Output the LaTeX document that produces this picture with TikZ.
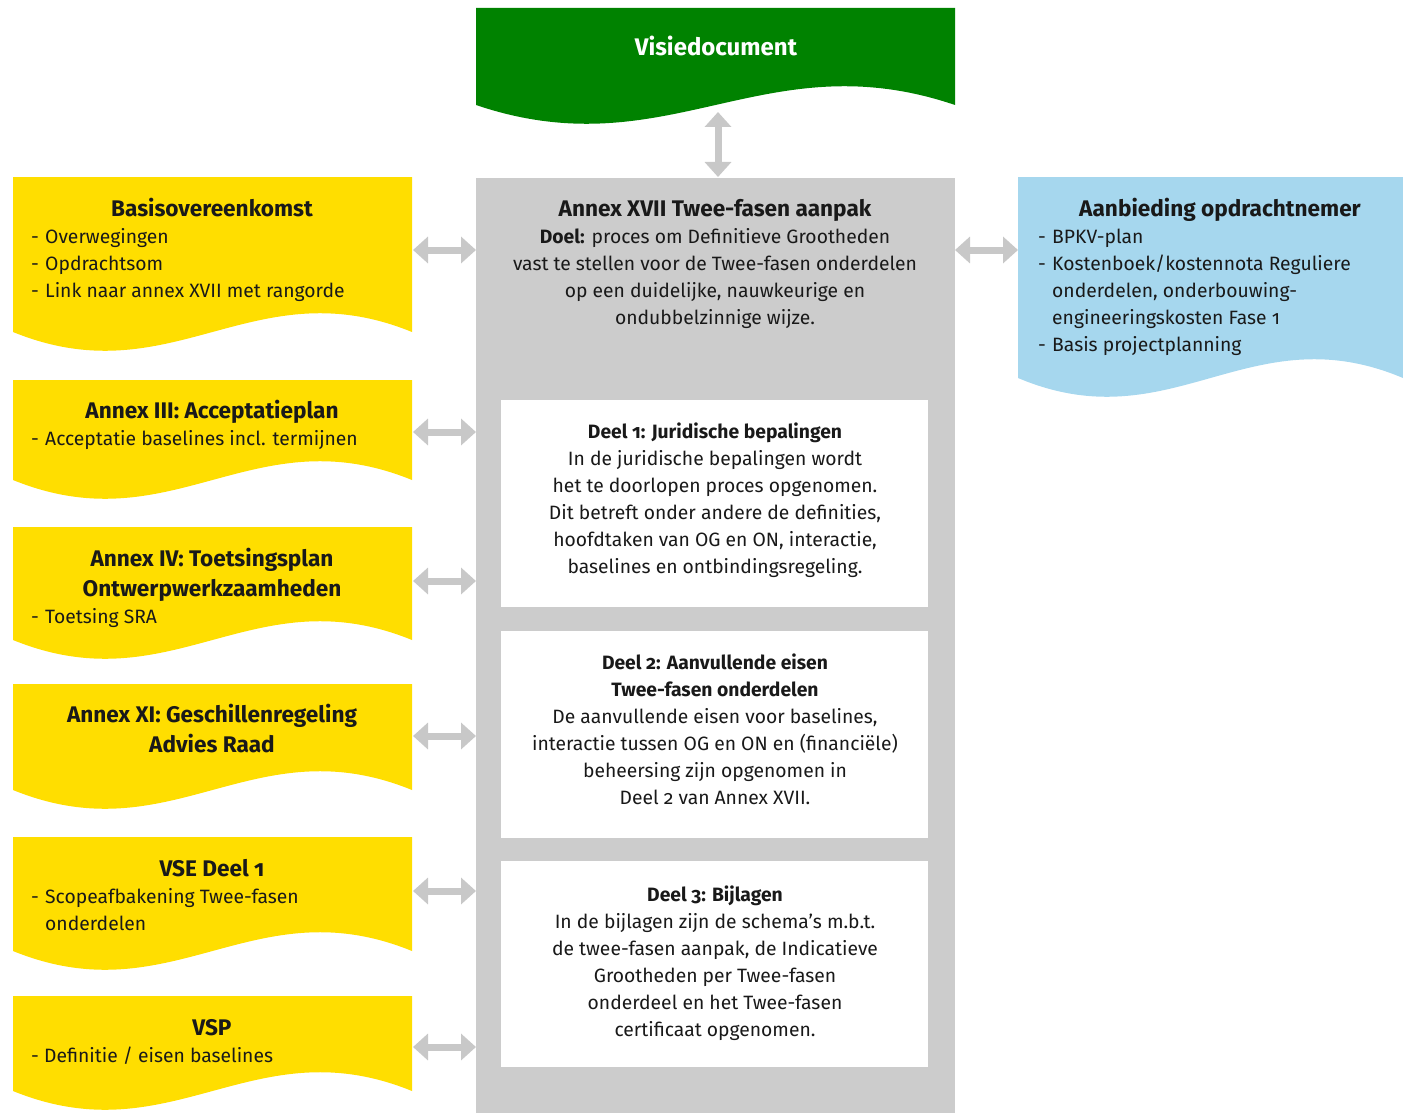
\documentclass[tikz,border=0pt]{standalone}
\usepackage{fontspec}
\setmainfont{Fira Sans}[Numbers=OldStyle]
\usetikzlibrary{arrows.meta}
\definecolor{docgreen}{RGB}{0,130,0}
\definecolor{docyellow}{RGB}{255,222,0}
\definecolor{docblue}{RGB}{166,215,238}
\definecolor{docgray}{RGB}{204,204,204}
\definecolor{arrgray}{RGB}{200,200,200}
\definecolor{txt}{RGB}{25,25,25}
\newcommand\wavedoc[5]{% style, x0, x1, ytop, ybottom(left/right end)
  \pgfmathsetmacro\wvA{#2+0.4*(#3-#2)}%
  \pgfmathsetmacro\wvB{#2+0.6*(#3-#2)}%
  \pgfmathsetmacro\wvD{#5+65}%
  \pgfmathsetmacro\wvU{#5-65}%
  \fill[#1] (#2,#4) -- (#3,#4) -- (#3,#5) .. controls (\wvB,\wvU) and (\wvA,\wvD) .. (#2,#5) -- cycle;
}
\tikzset{
  head/.style={font=\fontsize{22.6}{30}\selectfont\bfseries, text=txt, inner sep=0pt, anchor=base, align=center},
  body/.style={font=\fontsize{19.3}{27}\selectfont, text=txt, inner sep=0pt, anchor=base west, align=left},
  cbody/.style={font=\fontsize{19.3}{27}\selectfont, text=txt, inner sep=0pt, anchor=base, align=center},
  link/.style={draw=arrgray, line width=7pt, {Triangle[width=26pt,length=15pt]}-{Triangle[width=26pt,length=15pt]}},
}
\newcommand\dsh{\makebox[14pt][l]{-}}
\newcommand\ind{\makebox[14pt][l]{}}
\begin{document}
\begin{tikzpicture}[x=1pt,y=-1pt]
\useasboundingbox (0,0) rectangle (1403,1113);
% central grey panel
\fill[docgray] (476,178) rectangle (955,1113);
\fill[white] (501,400) rectangle (928,607);
\fill[white] (501,631) rectangle (928,838);
\fill[white] (501,861) rectangle (928,1067);
% wave documents
\wavedoc{docgreen}{476}{955}{8}{105}
\wavedoc{docyellow}{13}{412}{177}{332}
\wavedoc{docyellow}{13}{412}{380}{480}
\wavedoc{docyellow}{13}{412}{527}{640}
\wavedoc{docyellow}{13}{412}{684}{790}
\wavedoc{docyellow}{13}{412}{837}{951}
\wavedoc{docyellow}{13}{412}{996}{1091}
\wavedoc{docblue}{1018}{1403}{177}{378}
% anchor coordinates
\coordinate (visB) at (718,112);
\coordinate (grT) at (718,177);
\foreach \n/\y in {1/250,2/432,3/581,4/736,5/891,6/1047}{
  \coordinate (yR\n) at (413,\y);
  \coordinate (gL\n) at (476,\y);
}
\coordinate (gR) at (955,250);
\coordinate (bL) at (1018,250);
% connectors
\draw[link] (visB) -- (grT);
\foreach \n in {1,...,6}{\draw[link] (yR\n) -- (gL\n);}
\draw[link] (gR) -- (bL);
% texts (base anchor = baseline of the last line)
\node[head, text=white, font=\fontsize{24}{30}\selectfont\bfseries] (tvis) at (716,56) {Visiedocument};

\node[head] (h1) at (212,216) {Basisovereenkomst};
\node[body] (b1) at (31,297) {\dsh Overwegingen\\\dsh Opdrachtsom\\\dsh Link naar annex XVII met rangorde};

\node[head] (h2) at (212,418) {Annex III: Acceptatieplan};
\node[body] (b2) at (31,445) {\dsh Acceptatie baselines incl. termijnen};

\node[head] (h3) at (212,596) {Annex IV: Toetsingsplan\\Ontwerpwerkzaamheden};
\node[body] (b3) at (31,623) {\dsh Toetsing SRA};

\node[head] (h4) at (212,752) {Annex XI: Geschillenregeling\\Advies Raad};

\node[head] (h5) at (212,876) {VSE Deel 1};
\node[body] (b5) at (31,930) {\dsh Scopeafbakening Twee-fasen\\\ind onderdelen};

\node[head] (h6) at (212,1035) {VSP};
\node[body] (b6) at (31,1062) {- Definitie / eisen baselines};

\node[head] (hb) at (1220,216) {Aanbieding opdrachtnemer};
\node[body] (bb) at (1038,351) {\dsh BPKV-plan\\\dsh Kostenboek/kostennota Reguliere\\\ind onderdelen, onderbouwing-\\\ind engineeringskosten Fase 1\\\dsh Basis projectplanning};

\node[head] (hg) at (715,216) {Annex XVII Twee-fasen aanpak};
\node[cbody] (bg) at (715,324) {\textbf{Doel:} proces om Definitieve Grootheden\\vast te stellen voor de Twee-fasen onderdelen\\op een duidelijke, nauwkeurige en\\ondubbelzinnige wijze.};

\node[cbody] (d1) at (715,573) {\textbf{Deel 1: Juridische bepalingen}\\In de juridische bepalingen wordt\\het te doorlopen proces opgenomen.\\Dit betreft onder andere de definities,\\hoofdtaken van OG en ON, interactie,\\baselines en ontbindingsregeling.};

\node[cbody] (d2) at (715,804) {\textbf{Deel 2: Aanvullende eisen}\\\textbf{Twee-fasen onderdelen}\\De aanvullende eisen voor baselines,\\interactie tussen OG en ON en (financiële)\\beheersing zijn opgenomen in\\Deel 2 van Annex XVII.};

\node[cbody] (d3) at (715,1036) {\textbf{Deel 3: Bijlagen}\\In de bijlagen zijn de schema’s m.b.t.\\de twee-fasen aanpak, de Indicatieve\\Grootheden per Twee-fasen\\onderdeel en het Twee-fasen\\certificaat opgenomen.};
\end{tikzpicture}
\end{document}
